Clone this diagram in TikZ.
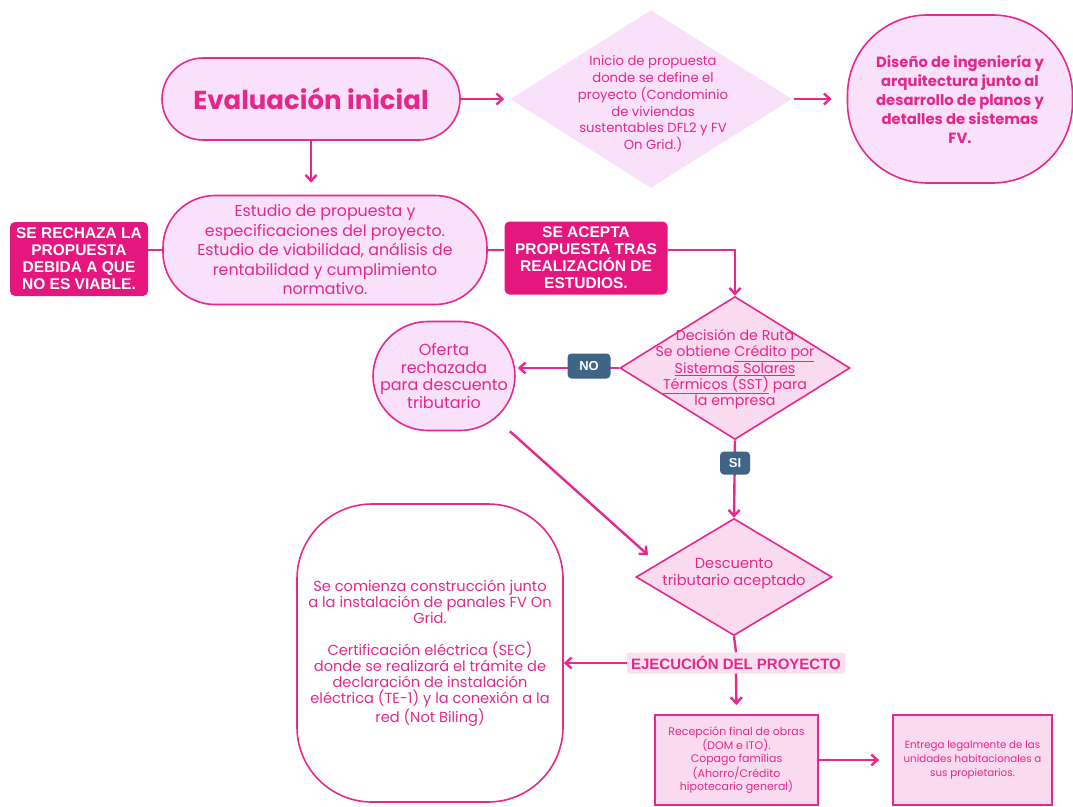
\documentclass[tikz,border=0pt]{standalone}
\usepackage{fontspec}
\setmainfont{Poppins}
\newfontfamily\capsfont{Liberation Sans}
\usetikzlibrary{arrows.meta,shapes.geometric}
\definecolor{mag}{HTML}{E8288A}
\definecolor{magtext}{HTML}{E3288C}
\definecolor{lav}{HTML}{F9E1F9}
\definecolor{pinkfill}{HTML}{FADAEE}
\definecolor{tagfill}{HTML}{E5177F}
\definecolor{ejfill}{HTML}{FBE1EF}
\definecolor{slate}{HTML}{3E6586}
\tikzset{
  conn/.style={draw=mag, line width=2.4pt},
  arr/.style={conn, -{Straight Barb[length=6pt,width=11pt,line width=2.4pt]}},
  pill/.style={draw=mag, line width=1.6pt, fill=lav, rounded corners=#1, text=magtext, align=center, inner sep=0pt},
  dshape/.style={diamond, inner sep=0pt, line width=1.6pt},
  rbox/.style={draw=mag, line width=1.8pt, fill=pinkfill, text=magtext, align=center, inner sep=0pt},
  tag/.style={fill=tagfill, rounded corners=5pt, text=white, align=center, inner sep=0pt,
    font=\capsfont\bfseries\fontsize{15.5}{17}\selectfont},
  yesno/.style={fill=slate, rounded corners=4pt, text=white, inner sep=0pt,
    font=\capsfont\bfseries\fontsize{13}{15}\selectfont},
  lbl/.style={text=magtext, align=center, inner sep=0pt}
}
\begin{document}
\begin{tikzpicture}[x=1pt,y=-1pt]
\useasboundingbox[fill=white] (0,0) rectangle (1073,806);

% top row
\node[pill=41pt, minimum width=298pt, minimum height=82pt,
  font=\bfseries\fontsize{26}{28}\selectfont] (ev) at (311,99) {Evaluación inicial};
\node[dshape, fill=lav, minimum width=282pt, minimum height=178pt] (d1) at (651,99) {};
\node[lbl, font=\fontsize{13.2}{16.8}\selectfont] (d1t) at (653,104)
  {Inicio de propuesta\\donde se define el\\proyecto (Condominio\\de viviendas\\sustentables DFL2 y FV\\On Grid.)};
\node[pill=80pt, minimum width=225pt, minimum height=168pt,
  font=\bfseries\fontsize{14.8}{19}\selectfont] (dis) at (960,99)
  {Diseño de ingeniería y\\arquitectura junto al\\desarrollo de planos y\\detalles de sistemas\\FV.};

% study row
\node[pill=52pt, minimum width=324pt, minimum height=109pt,
  font=\fontsize{15.8}{19.5}\selectfont] (est) at (325,250)
  {Estudio de propuesta y\\especificaciones del proyecto.\\Estudio de viabilidad, análisis de\\rentabilidad y cumplimiento\\normativo.};
\node[tag, minimum width=138pt, minimum height=74pt] (rech) at (79,259)
  {SE RECHAZA LA\\PROPUESTA\\DEBIDA A QUE\\NO ES VIABLE.};
\node[tag, minimum width=163pt, minimum height=73pt] (acc) at (586,258)
  {SE ACEPTA\\PROPUESTA TRAS\\REALIZACIÓN DE\\ESTUDIOS.};

% route decision
\node[dshape, draw=mag, fill=pinkfill, minimum width=230pt, minimum height=143pt] (d2) at (735,368) {};
\node[lbl, font=\fontsize{14.2}{16}\selectfont] (d2t) at (735,369)
  {Decisión de Ruta\\Se obtiene \underline{Crédito por}\\\underline{Sistemas Solares}\\\underline{Térmicos (SST)} para\\la empresa};
\node[pill=55pt, minimum width=142pt, minimum height=109pt,
  font=\fontsize{16}{17.5}\selectfont] (of) at (444,376)
  {Oferta\\rechazada\\para descuento\\tributario};

% discount
\node[dshape, draw=mag, fill=pinkfill, minimum width=196pt, minimum height=117pt] (d3) at (734,577) {};
\node[lbl, font=\fontsize{14.6}{17}\selectfont] (d3t) at (734,574)
  {Descuento\\tributario aceptado};
\coordinate (d3in) at (648,555);

% execution
\node[fill=ejfill, rounded corners=3pt, minimum width=218pt, minimum height=21pt, inner sep=0pt,
  text=magtext, font=\capsfont\bfseries\fontsize{15}{16}\selectfont] (ej) at (736,663) {EJECUCIÓN DEL PROYECTO};
\node[draw=mag, line width=1.6pt, fill=white, rounded corners=75pt, minimum width=266pt, minimum height=298pt,
  inner sep=0pt, text=magtext, align=center, font=\fontsize{14.6}{16}\selectfont] (big) at (430,653)
  {Se comienza construcción junto\\a la instalación de panales FV On\\Grid.\\[16pt]Certificación eléctrica (SEC)\\donde se realizará el trámite de\\declaración de instalación\\eléctrica (TE-1) y la conexión a la\\red (Not Biling)};
\node[rbox, minimum width=163pt, minimum height=90pt, font=\fontsize{11}{13}\selectfont] (rec) at (736.5,760)
  {Recepción final de obras\\(DOM e ITO).\\Copago familias\\(Ahorro/Crédito\\hipotecario general)};
\node[rbox, minimum width=159pt, minimum height=90pt, font=\fontsize{10.3}{14}\selectfont] (ent) at (972.5,760)
  {Entrega legalmente de las\\unidades habitacionales a\\sus propietarios.};

% connectors
\draw[arr, shorten >=5pt] (ev.east) -- (d1.west);
\draw[arr, shorten <=1pt, shorten >=15pt] (d1.east) -- (dis.west);
\draw[arr, shorten >=12pt] (ev.south) -- (ev.south |- est.north);
\draw[conn] (est.west) -- (est.west -| rech.east);
\draw[conn] (est.east) -- (est.east -| acc.west);
\draw[arr] (acc.east |- est.east) -| (d2.north);
\draw[arr, shorten >=2pt] (d2.west) -- (d2.west -| of.east);
\node[yesno, minimum width=43pt, minimum height=25pt] (no) at (589,366) {NO};
\draw[arr] (d2.south) -- (d3.north);
\node[yesno, minimum width=30pt, minimum height=23pt] (si) at (735,463) {SI};
\draw[arr] (of.-40) -- (d3in);
\draw[conn] (d3.south) -- (ej.north);
\draw[arr] (ej.west) -- (ej.west -| big.east);
\draw[arr, shorten >=9pt] (ej.south) -- (rec.north);
\draw[arr, shorten >=13pt] (rec.east) -- (ent.west);
\end{tikzpicture}
\end{document}
